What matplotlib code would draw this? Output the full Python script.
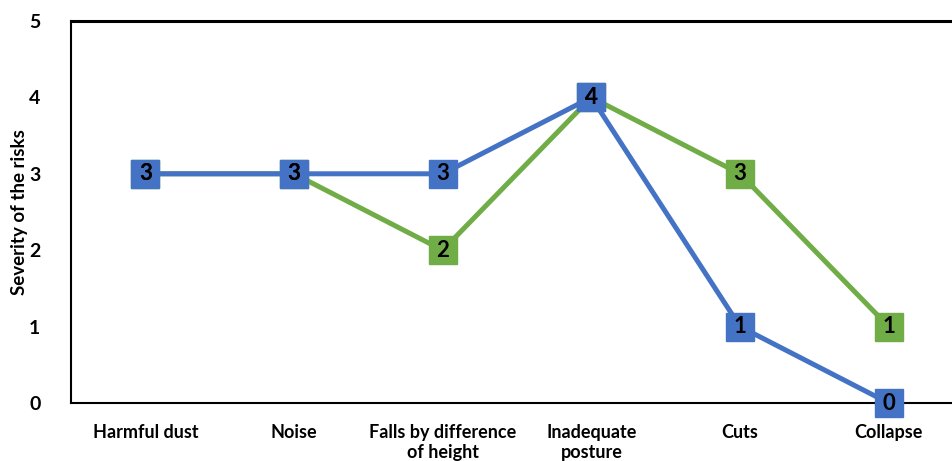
import matplotlib
matplotlib.use('Agg')
import matplotlib.pyplot as plt

# fonts
matplotlib.rcParams['font.family'] = ['Lato', 'DejaVu Sans']
matplotlib.rcParams['font.weight'] = 'bold'

categories = ['Harmful dust', 'Noise', 'Falls by difference\nof height',
              'Inadequate\nposture', 'Cuts', 'Collapse']
green_vals = [3, 3, 2, 4, 3, 1]
blue_vals = [3, 3, 3, 4, 1, 0]
yticks = [0, 1, 2, 3, 4, 5]

blue = '#4472C4'
green = '#70AD47'

fig = plt.figure(figsize=(9.52, 4.61), dpi=100)
ax = fig.add_axes([71 / 952, 58 / 461, 892 / 952, 382 / 461])

x = list(range(len(categories)))

for vals, color in [(green_vals, green), (blue_vals, blue)]:
    ax.plot(x, vals, color=color, linewidth=3.6, marker='s', markersize=19.5,
            markerfacecolor=color, markeredgecolor=color, clip_on=False, zorder=3)
    for xi, v in zip(x, vals):
        ax.text(xi, v, str(v), ha='center', va='center', fontsize=16,
                fontweight='bold', color='black', zorder=4, clip_on=False)

ax.set_xlim(-0.5, 5.5)
ax.set_ylim(0, 5)
ax.set_yticks(yticks)
ax.set_xticks(x)
ax.set_xticklabels(categories, fontsize=13, fontweight='bold', linespacing=1.25)
ax.tick_params(axis='y', length=0, pad=22, labelsize=14)
ax.tick_params(axis='x', length=0, pad=15)
for t in ax.get_yticklabels():
    t.set_fontweight('bold')

ax.set_ylabel('Severity of the risks', fontsize=13.5, fontweight='bold', labelpad=1)

for side in ['left', 'bottom', 'top', 'right']:
    ax.spines[side].set_linewidth(1.5)
    ax.spines[side].set_color('black')
ax.spines['top'].set_linewidth(2.2)

plt.savefig('out.png', dpi=100)
